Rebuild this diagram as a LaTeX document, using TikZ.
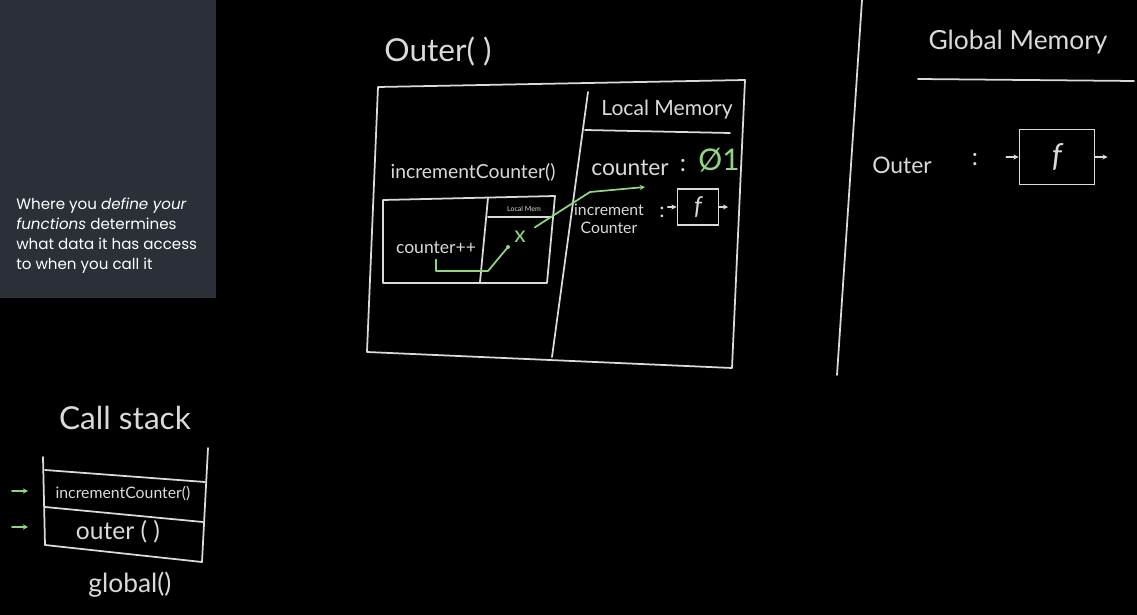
\documentclass[tikz,border=0pt]{standalone}
\usepackage{fontspec}
\setmainfont{Lato}
\newfontfamily\panelfont{Poppins}
\usetikzlibrary{arrows.meta}
\definecolor{chalk}{HTML}{DADADA}
\definecolor{chalkgreen}{HTML}{8FD67F}
\definecolor{panelgrey}{HTML}{2A2F38}
\tikzset{
  chalkline/.style={chalk, line width=1pt, line cap=round, line join=round},
  greenline/.style={chalkgreen, line width=1pt, line cap=round, line join=round},
  hand/.style={text=chalk, inner sep=0pt, font=\fontsize{#1}{#1}\selectfont},
  hand/.default=12,
  fbox/.style={draw=chalk, line width=1pt, text=chalk, inner sep=0pt, font=\itshape\fontsize{#1}{#1}\selectfont},
  tip/.style={-{Stealth[length=3pt,width=3pt]}}
}
\begin{document}
\begin{tikzpicture}[x=0.02cm, y=-0.02cm]
\fill[black] (0,0) rectangle (1137,615);
\useasboundingbox (0,0) rectangle (1137,615);
\fill[panelgrey] (0,0) rectangle (216,298);
\node[text=white, anchor=north west, align=left, inner sep=0pt, font=\panelfont\fontsize{8.6}{11.3}\selectfont] (note) at (16,198)
  {Where you \textit{define your}\\ \textit{functions} determines\\ what data it has access\\ to when you call it};

\node[hand=18] (outer) at (438,52) {Outer( )};
\draw[chalkline] (378,87) -- (745,80) -- (732,368) -- (367,352) -- cycle;
\draw[chalkline] (588,92) -- (552,357);
\node[hand=12] (localmem) at (667,110) {Local Memory};
\draw[chalkline] (585,130) -- (730,133);
\node[hand=11] (incname) at (473,172) {incrementCounter()};
\node[hand=13] (counter) at (630,168) {counter};
\node[hand=14] (colon1) at (683,166) {:};
\node[hand=17, text=chalkgreen] (value) at (719,160) {Ø1};

\draw[chalkline] (383,200) -- (555,196) -- (547,283) -- (383,283) -- cycle;
\draw[chalkline] (488,198) -- (480,282);
\node[hand=4] (innermem) at (524,209) {Local Mem};
\draw[chalkline] (488,217) -- (550,217);
\node[hand=10] (incr) at (436,248) {counter++};
\coordinate (bend) at (488,271);
\coordinate (dot) at (508,247);
\coordinate (rise) at (590,192);
\coordinate (hit) at (645,187);
\node[hand=13, text=chalkgreen] (cross) at (520,237) {x};
\draw[greenline] ([yshift=-3pt]incr.south) |- (bend) -- (dot);
\fill[chalkgreen] (dot) circle (2);
\draw[greenline, tip] ([shift={(5pt,2pt)}]cross.north east) -- (rise) -- (hit);

\node[hand=9, align=center] (incmem) at (609,219) {increment\\[1pt]Counter};
\node[hand=12] (colon2) at (662,212) {:};
\node[fbox=14, minimum width=0.82cm, minimum height=0.72cm] (fn) at (698,207) {f};
\draw[chalkline, tip] ([xshift=-5pt]fn.west) -- (fn.west);
\draw[chalkline, tip] (fn.east) -- ([xshift=5pt]fn.east);

\draw[chalkline] (862,0) -- (837,375);
\node[hand=15] (globalmem) at (1018,42) {Global Memory};
\draw[chalkline] (918,79) -- (1134,81);
\node[hand=13] (outerfn) at (902,165) {Outer};
\node[hand=14] (colon3) at (975,160) {:};
\node[fbox=18, minimum width=1.5cm, minimum height=1.1cm] (gfn) at (1057,157) {f};
\draw[chalkline, tip] ([xshift=-7pt]gfn.west) -- (gfn.west);
\draw[chalkline, tip] (gfn.east) -- ([xshift=7pt]gfn.east);

\node[hand=18] (callstack) at (125,418) {Call stack};
\draw[chalkline] (43,457) -- (45,545);
\draw[chalkline] (208,448) -- (202,562);
\draw[chalkline] (45,470) -- (205,482);
\draw[chalkline] (45,507) -- (203,522);
\draw[chalkline] (45,545) -- (202,562);
\node[hand=9] (frameinc) at (123,494) {incrementCounter()};
\node[hand=14] (frameouter) at (118,532) {outer ( )};
\node[hand=15] (frameglobal) at (130,585) {global()};
\coordinate (ptrinc) at (12,491);
\coordinate (ptrouter) at (12,527);
\draw[greenline, tip] (ptrinc) -- ++(16,0);
\draw[greenline, tip] (ptrouter) -- ++(16,0);
\end{tikzpicture}
\end{document}
